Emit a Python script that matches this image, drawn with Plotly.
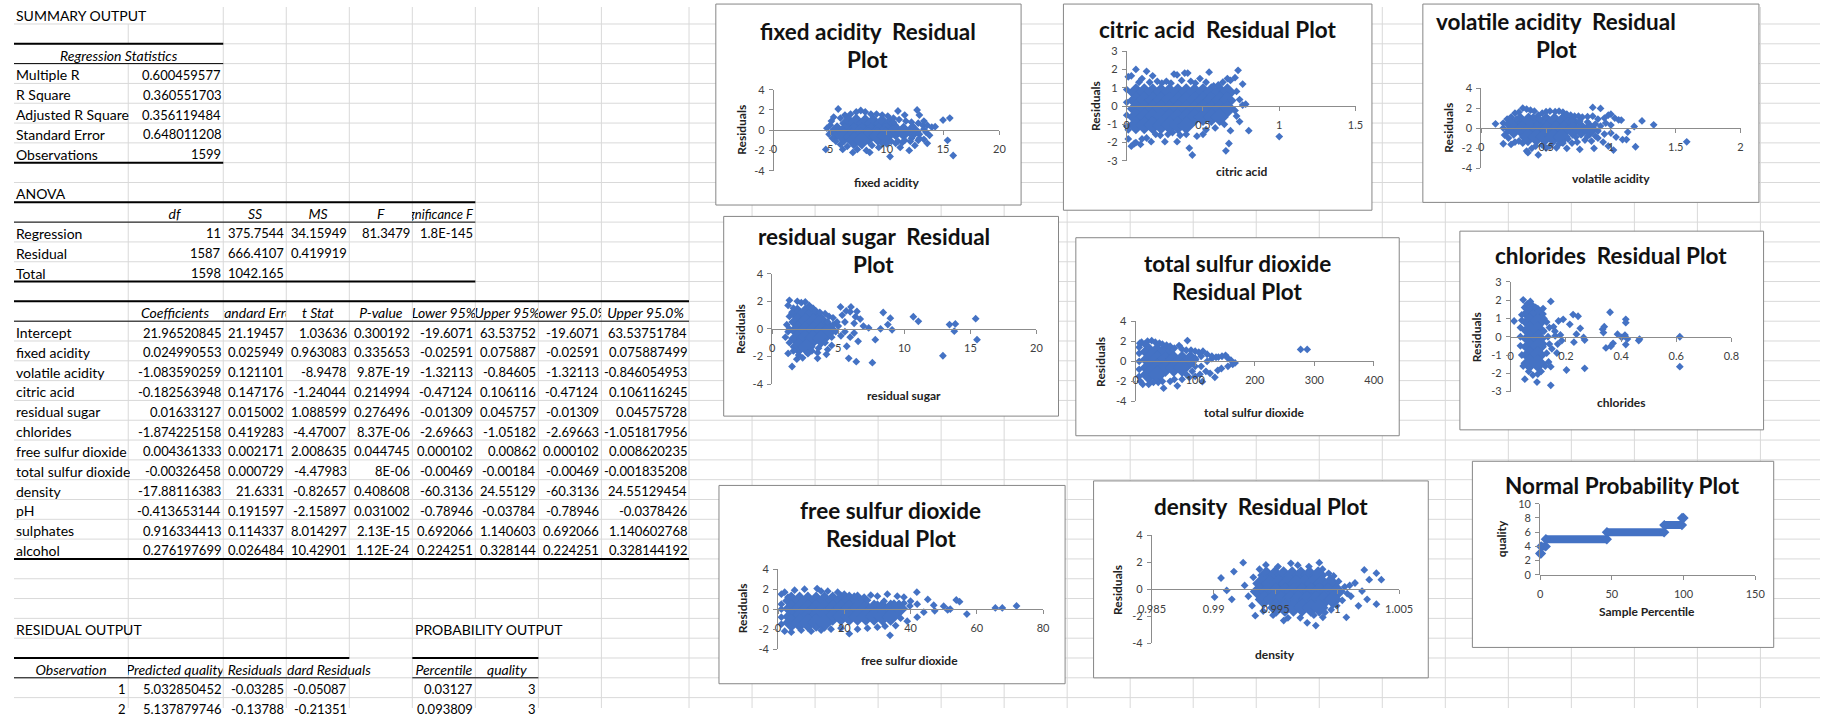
import plotly.graph_objects as go

W, H = 1834, 714
FONT = "Lato"
BLUE = "#4472C4"
GRID = "#d9d9d9"
AXIS = "#8c8c8c"

# ================= regression output (table text) =================
summary_title = "SUMMARY OUTPUT"
reg_stats_header = "Regression Statistics"
reg_stats_labels = ["Multiple R", "R Square", "Adjusted R Square", "Standard Error", "Observations"]
reg_stats_values = ["0.600459577", "0.360551703", "0.356119484", "0.648011208", "1599"]

anova_title = "ANOVA"
anova_headers = ["df", "SS", "MS", "F", "Significance F"]
anova_labels = ["Regression", "Residual", "Total"]
anova_df = ["11", "1587", "1598"]
anova_ss = ["375.7544", "666.4107", "1042.165"]
anova_ms = ["34.15949", "0.419919", ""]
anova_f = ["81.3479", "", ""]
anova_sig = ["1.8E-145", "", ""]

coef_headers = ["Coefficients", "Standard Error", "t Stat", "P-value",
                "Lower 95%", "Upper 95%", "Lower 95.0%", "Upper 95.0%"]
coef_names = ["Intercept", "fixed acidity", "volatile acidity", "citric acid", "residual sugar",
              "chlorides", "free sulfur dioxide", "total sulfur dioxide", "density", "pH",
              "sulphates", "alcohol"]
coef_values = [
    ["21.96520845", "21.19457", "1.03636", "0.300192", "-19.6071", "63.53752", "-19.6071", "63.53751784"],
    ["0.024990553", "0.025949", "0.963083", "0.335653", "-0.02591", "0.075887", "-0.02591", "0.075887499"],
    ["-1.083590259", "0.121101", "-8.9478", "9.87E-19", "-1.32113", "-0.84605", "-1.32113", "-0.846054953"],
    ["-0.182563948", "0.147176", "-1.24044", "0.214994", "-0.47124", "0.106116", "-0.47124", "0.106116245"],
    ["0.01633127", "0.015002", "1.088599", "0.276496", "-0.01309", "0.045757", "-0.01309", "0.04575728"],
    ["-1.874225158", "0.419283", "-4.47007", "8.37E-06", "-2.69663", "-1.05182", "-2.69663", "-1.051817956"],
    ["0.004361333", "0.002171", "2.008635", "0.044745", "0.000102", "0.00862", "0.000102", "0.008620235"],
    ["-0.00326458", "0.000729", "-4.47983", "8E-06", "-0.00469", "-0.00184", "-0.00469", "-0.001835208"],
    ["-17.88116383", "21.6331", "-0.82657", "0.408608", "-60.3136", "24.55129", "-60.3136", "24.55129454"],
    ["-0.413653144", "0.191597", "-2.15897", "0.031002", "-0.78946", "-0.03784", "-0.78946", "-0.0378426"],
    ["0.916334413", "0.114337", "8.014297", "2.13E-15", "0.692066", "1.140603", "0.692066", "1.140602768"],
    ["0.276197699", "0.026484", "10.42901", "1.12E-24", "0.224251", "0.328144", "0.224251", "0.328144192"],
]

residual_title = "RESIDUAL OUTPUT"
probability_title = "PROBABILITY OUTPUT"
residual_headers = ["Observation", "Predicted quality", "Residuals", "dard Residuals"]
probability_headers = ["Percentile", "quality"]
residual_rows = [["1", "5.032850452", "-0.03285", "-0.05087"],
                 ["2", "5.137879746", "-0.13788", "-0.21351"]]
probability_rows = [["0.03127", "3"], ["0.093809", "3"]]

# ================= residual plots =================
fixed_acidity_core = [(6.6, 0.7), (7.3, 0.75), (8.1, 0.7), (8.8, 0.7), (9.6, 0.65), (10.3, 0.5),
    (5.6, -0.1), (6.3, -0.1), (7.1, -0.15), (7.8, -0.1), (8.6, -0.1), (9.3, -0.15), (10.0, -0.1),
    (10.8, -0.1), (11.5, -0.15), (12.3, -0.1), (6.2, -0.6), (6.9, -0.65), (7.7, -0.6), (8.4, -0.6),
    (9.2, -0.6), (9.9, -0.55), (7.1, -1.0), (7.8, -1.0)]
fixed_acidity_pts = [(4.6, -1.9), (4.7, 0.2), (4.9, -0.4), (5.0, 0.5), (5.1, 0.9), (5.3, 1.3), (5.7, 2.1),
    (5.9, 1.2), (6.3, 1.5), (6.8, 1.6), (7.3, 1.8), (7.7, 1.95), (8.1, 1.8), (8.6, 1.6), (9.1, 1.6),
    (9.6, 1.5), (10.1, 1.4), (10.6, 1.2), (10.6, 0.8), (11.0, 1.9), (11.1, 1.05), (11.6, 1.5), (11.7, 0.9),
    (12.2, 0.8), (12.3, 0.4), (12.7, 2.0), (12.8, 0.7), (12.9, 1.5), (13.2, 0.5), (13.3, 0.9), (13.3, 0.1),
    (13.6, 0.5), (14.0, 0.3), (14.3, 0.35), (13.5, -0.2), (13.8, -0.5), (12.9, -0.4), (12.9, -0.8),
    (12.2, -0.8), (11.6, -1.0), (11.0, -1.1), (10.4, -1.1), (10.0, -1.35), (15.0, 1.0), (15.6, 1.2),
    (5.2, -0.8), (5.5, -1.1), (5.9, -1.4), (6.1, -1.9), (6.5, -1.6), (7.0, -2.2), (7.4, -1.9), (8.2, -2.0),
    (8.5, -2.2), (8.7, -1.5), (9.3, -1.7), (9.6, -1.3), (10.3, -2.6), (10.8, -1.3), (11.2, -1.7),
    (11.4, -1.2), (12.0, -2.0), (12.1, -1.1), (12.5, -1.5), (12.8, -1.0), (13.3, -0.9), (13.6, -1.3),
    (15.4, -1.0), (15.9, -2.5)]

citric_acid_core = [
    (0.06, 0.75), (0.115, 0.75), (0.17, 0.75), (0.225, 0.75), (0.28, 0.75), (0.335, 0.75), (0.39, 0.75),
    (0.445, 0.75), (0.5, 0.75), (0.555, 0.75), (0.61, 0.75), (0.66, 0.75),
    (0.06, 0.3), (0.115, 0.3), (0.17, 0.3), (0.225, 0.3), (0.28, 0.3), (0.335, 0.3), (0.39, 0.3),
    (0.445, 0.3), (0.5, 0.3), (0.555, 0.3), (0.61, 0.3), (0.66, 0.3),
    (0.06, -0.15), (0.115, -0.15), (0.17, -0.15), (0.225, -0.15), (0.28, -0.15), (0.335, -0.15),
    (0.39, -0.15), (0.445, -0.15), (0.5, -0.15), (0.555, -0.15), (0.61, -0.15), (0.66, -0.15),
    (0.06, -0.6), (0.115, -0.6), (0.17, -0.6), (0.225, -0.6), (0.28, -0.6), (0.335, -0.6), (0.39, -0.6),
    (0.445, -0.6), (0.5, -0.6), (0.555, -0.6), (0.61, -0.6),
    (0.06, -1.05), (0.115, -1.05), (0.17, -1.05), (0.225, -1.05), (0.28, -1.05), (0.335, -1.05), (0.39, -1.05)]
citric_acid_pts = [(0.01, 1.6), (0.03, 1.65), (0.06, 2.0), (0.08, 1.3), (0.1, 1.5), (0.13, 1.9), (0.15, 1.3),
    (0.17, 1.65), (0.2, 1.35), (0.23, 1.25), (0.26, 1.35), (0.29, 1.25), (0.31, 1.75), (0.33, 1.7),
    (0.36, 1.4), (0.38, 1.8), (0.4, 1.8), (0.42, 1.35), (0.45, 1.25), (0.48, 1.5), (0.52, 1.3), (0.54, 1.85),
    (0.57, 1.1), (0.6, 1.15), (0.63, 1.3), (0.66, 1.5), (0.68, 1.4), (0.71, 1.55), (0.73, 1.95), (0.76, 1.2),
    (0.72, 0.8), (0.74, 0.35), (0.76, 0.05), (0.78, 0.1), (0.71, -0.25), (0.72, -0.55), (0.74, -0.85),
    (0.8, -1.35), (0.68, -1.35), (0.67, -2.05), (0.65, -2.45), (0.64, -1.0), (0.58, -1.2), (0.52, -1.3),
    (0.5, -1.55), (0.46, -1.65), (0.43, -2.68), (0.41, -2.3), (0.39, -1.55), (0.35, -1.6), (0.33, -1.95),
    (0.3, -1.45), (0.27, -1.55), (0.25, -1.95), (0.22, -1.6), (0.19, -1.55), (0.16, -1.95), (0.13, -1.75),
    (0.1, -1.8), (0.09, -2.1), (0.06, -2.0), (0.05, -2.05), (0.03, -2.2), (0.01, -1.8), (0.01, -1.3),
    (0.0, 0.9), (0.0, 0.2), (0.0, -0.5), (0.0, -1.1), (1.0, -1.67)]

volatile_acidity_core = [(0.3, 0.65), (0.365, 0.65), (0.5, 0.65), (0.565, 0.65), (0.63, 0.65), (0.695, 0.6),
    (0.25, -0.15), (0.315, -0.15), (0.38, -0.15), (0.445, -0.15), (0.51, -0.15), (0.575, -0.15),
    (0.64, -0.15), (0.705, -0.15), (0.77, -0.15), (0.835, -0.15),
    (0.36, -0.9), (0.425, -0.9), (0.49, -0.9), (0.555, -0.9), (0.62, -0.9)]
volatile_acidity_pts = [(0.11, 0.43), (0.17, 0.5), (0.2, 0.9), (0.23, 1.1), (0.26, 1.5), (0.29, 1.6),
    (0.32, 2.0), (0.35, 1.9), (0.38, 1.8), (0.41, 1.7), (0.44, 1.3), (0.47, 1.5), (0.5, 1.65), (0.53, 1.7),
    (0.57, 1.65), (0.6, 1.7), (0.63, 1.6), (0.66, 1.4), (0.69, 1.3), (0.72, 1.2), (0.75, 1.2), (0.78, 1.1),
    (0.82, 1.15), (0.86, 2.07), (0.86, 1.2), (0.9, 0.9), (0.92, 1.97), (0.95, 1.0), (0.98, 1.3), (1.0, 1.4),
    (1.03, 1.0), (1.06, 0.82), (1.08, 0.8), (0.43, 0.9), (0.43, 0.4),
    (0.17, 0.0), (0.2, -0.4), (0.2, 0.4), (0.23, 0.7), (0.27, 0.9), (0.4, 1.1), (0.45, 0.9), (0.7, 0.8),
    (0.76, 0.7), (0.82, 0.6), (0.88, 0.4), (0.92, 0.2), (0.96, 0.5), (1.0, 0.3), (0.9, -0.3), (0.95, -0.6),
    (1.0, -0.5), (1.04, -0.9), (0.88, -0.8), (0.82, -0.8), (0.73, -0.9), (0.67, -1.1),
    (0.17, -1.57), (0.18, -0.7), (0.21, -1.0), (0.23, -1.64), (0.26, -1.4), (0.29, -1.3), (0.32, -1.5),
    (0.35, -2.3), (0.36, -2.46), (0.39, -2.03), (0.42, -1.8), (0.44, -2.69), (0.47, -1.7), (0.5, -2.0),
    (0.53, -1.8), (0.58, -1.97), (0.6, -1.6), (0.63, -1.5), (0.66, -2.03), (0.7, -1.5), (0.74, -1.4),
    (0.76, -2.13), (0.8, -1.2), (0.85, -1.3), (0.87, -2.03), (0.9, -1.0), (0.94, -1.4), (0.98, -1.8),
    (1.02, -2.2), (1.09, -1.15), (1.12, -1.15), (1.13, -0.4), (1.18, 0.16), (1.19, -1.87), (1.24, 0.72),
    (1.33, 0.33), (1.585, -1.38)]

residual_sugar_core = [(1.9, 1.1), (2.5, 1.1), (3.1, 1.1),
    (1.9, 0.5), (2.5, 0.5), (3.1, 0.5), (3.7, 0.5),
    (1.9, -0.1), (2.5, -0.1), (3.1, -0.1), (3.7, -0.1), (4.3, -0.1),
    (1.9, -0.7), (2.5, -0.7), (3.1, -0.7), (3.7, -0.7),
    (2.0, -1.3), (2.6, -1.3)]
residual_sugar_pts = [(1.2, 1.7), (1.3, 2.07), (1.5, 1.2), (1.6, 1.5), (1.9, 2.0), (2.2, 1.9), (2.5, 1.95),
    (2.8, 1.7), (3.0, 1.5), (3.3, 1.3), (3.6, 1.2), (4.0, 1.1), (4.3, 0.9), (4.6, 0.8), (4.9, 0.5),
    (5.17, 1.59), (5.3, 1.0), (5.6, 1.3), (5.96, 1.59), (5.9, 1.24), (6.3, 0.88), (6.41, 1.26), (6.66, 0.71),
    (6.2, 0.4), (5.5, 0.5), (5.0, 0.2), (4.8, -0.2), (5.2, -0.5), (5.5, -0.2), (5.9, -0.6), (6.2, -0.3),
    (6.5, -0.9), (6.9, 0.2), (7.3, 0.07), (7.8, -0.78), (8.2, 0.0), (8.4, 1.19), (8.75, 0.31), (8.94, 0.78),
    (9.07, -0.07), (5.64, -1.26), (5.79, -2.14), (6.36, -2.38), (7.58, -2.45), (10.68, 0.88), (11.06, 0.55),
    (12.92, -1.95), (13.42, 0.31), (13.86, 0.36), (13.78, -0.17), (15.4, 0.74), (15.5, -0.78),
    (1.0, -0.6), (1.1, 0.3), (1.2, -0.2), (1.3, -1.0), (1.2, -1.78), (1.5, -2.73), (1.86, -2.2), (1.6, -1.6),
    (2.0, -1.9), (2.3, -2.1), (2.7, -1.8), (3.0, -1.6), (3.43, -2.14), (3.43, -1.73), (3.5, -1.4),
    (4.1, -1.85), (4.2, -1.5), (4.5, -1.2), (4.0, -1.0), (4.5, -0.6), (4.6, 0.3), (4.2, 0.5), (1.3, 0.9),
    (1.3, 0.0)]

total_sulfur_core = [(22, 0.95), (36, 0.95), (50, 0.95),
    (22, 0.15), (36, 0.15), (50, 0.15), (64, 0.15), (78, 0.15), (92, 0.15),
    (22, -0.65), (36, -0.65), (50, -0.65), (64, -0.65), (78, -0.65),
    (22, -1.35), (36, -1.35)]
total_sulfur_pts = [(7, 1.8), (10, 1.9), (15, 1.7), (20, 2.0), (27, 2.05), (33, 1.9), (40, 1.8), (45, 1.7),
    (52, 1.6), (58, 1.5), (65, 1.3), (73, 1.57), (78, 1.2), (87, 2.06), (85, 1.1), (93, 1.1), (100, 1.0),
    (106, 0.9), (113, 1.01), (120, 0.7), (128, 0.26), (128, 0.5), (135, 0.4), (139, 0.42), (145, 0.5),
    (151, 0.59), (155, 0.3), (160, 0.1), (167, -0.16), (163, -0.3), (155, -0.5), (144, -0.72), (138, -0.9),
    (133, -1.6), (125, -1.2), (118, -1.0), (112, -2.03), (108, -1.3), (100, -1.5), (95, -1.0), (90, -1.6),
    (85, -1.3), (78, -1.8), (70, -2.45), (65, -1.8), (58, -2.0), (47, -2.68), (45, -2.0), (38, -2.1),
    (30, -2.1), (22, -2.3), (12, -2.3), (8, -2.0), (6, -1.5), (6, -0.8), (6, 0.0), (6, 0.8), (6, 1.4),
    (110, 0.5), (110, -0.5), (120, 0.0), (100, 0.3), (100, -0.5), (277, 1.18), (288, 1.18)]

chlorides_core = [(0.068, 1.25), (0.098, 1.25), (0.068, 0.8), (0.098, 0.8), (0.068, 0.35), (0.098, 0.35),
    (0.068, -0.1), (0.098, -0.1), (0.068, -0.55), (0.098, -0.55), (0.068, -1.0), (0.098, -1.0),
    (0.068, -1.45), (0.098, -1.45)]
chlorides_pts = [(0.012, 0.86), (0.04, 1.2), (0.045, 2.02), (0.05, 1.6), (0.06, 1.8), (0.071, 1.93),
    (0.08, 1.7), (0.09, 1.6), (0.1, 1.4), (0.117, 1.54), (0.12, 1.0), (0.13, 0.8), (0.145, 1.93),
    (0.14, 0.5), (0.135, 0.0), (0.14, -0.4), (0.13, -0.9), (0.137, -1.38), (0.125, -1.6), (0.145, -1.64),
    (0.145, -2.66), (0.11, -1.9), (0.095, -2.48), (0.098, -2.04), (0.08, -2.1), (0.065, -1.9),
    (0.051, -2.32), (0.045, -1.6), (0.04, -1.0), (0.035, -0.5), (0.035, 0.0), (0.035, 0.5), (0.04, 0.9),
    (0.12, 0.3), (0.12, -0.4), (0.155, 0.54), (0.161, 0.05), (0.149, -0.66), (0.167, -0.89), (0.173, 0.86),
    (0.185, -0.21), (0.19, 0.95), (0.202, -1.82), (0.214, 0.68), (0.226, 1.21), (0.229, -0.3), (0.238, 0.14),
    (0.244, 1.12), (0.252, 0.46), (0.264, -0.04), (0.268, -0.18), (0.268, -1.73), (0.333, 0.41),
    (0.336, 0.23), (0.339, 0.55), (0.345, -0.61), (0.36, 1.34), (0.363, -0.52), (0.371, -0.36),
    (0.387, 0.14), (0.402, -0.04), (0.414, 0.09), (0.417, 0.95), (0.417, 0.77), (0.417, -0.43),
    (0.423, -0.12), (0.464, -0.21), (0.467, -0.13), (0.613, 0.0), (0.613, -1.64), (0.16, 0.3),
    (0.17, -0.4), (0.18, 0.1)]

free_sulfur_core = [(4, 0.85), (6.5, 0.85), (9, 0.85), (11.5, 0.85), (14, 0.85), (16.5, 0.85), (19, 0.85),
    (21.5, 0.85), (24, 0.85),
    (4, 0.05), (6.5, 0.05), (9, 0.05), (11.5, 0.05), (14, 0.05), (16.5, 0.05), (19, 0.05), (21.5, 0.05),
    (24, 0.05), (26.5, 0.05), (29, 0.05), (31.5, 0.05), (34, 0.05), (36.5, 0.05),
    (4, -0.75), (6.5, -0.75), (9, -0.75), (11.5, -0.75), (14, -0.75), (16.5, -0.75), (19, -0.75),
    (21.5, -0.75), (24, -0.75), (26.5, -0.75), (29, -0.75), (31.5, -0.75), (34, -0.75),
    (4, -1.35), (6.5, -1.35), (9, -1.35), (11.5, -1.35), (14, -1.35)]
free_sulfur_pts = [(1, 0.5), (1, 1.5), (2, 1.7), (3, 1.2), (5, 1.9), (8, 2.0), (11.8, 2.07), (13, 1.8),
    (15, 1.8), (18, 1.7), (20, 1.5), (23, 1.3), (26, 1.2), (28, 1.4), (30, 1.3), (33, 1.5), (36, 1.3),
    (38, 1.2), (41.9, 1.7), (40, 0.8), (42, 0.5), (45.2, 0.98), (47, 0.4), (50, 0.3), (53.8, 0.92),
    (54.8, 0.75), (52, 0.0), (47.3, -0.16), (51.2, -0.07), (57, -0.49), (65.6, 0.13), (67.7, 0.13),
    (72, 0.33), (39.8, 0.33), (44, -0.3), (42, -0.8), (39, -1.2), (35.5, -1.64), (32.3, -1.7),
    (33.8, -2.62), (30, -1.8), (27, -1.9), (24, -2.0), (21.5, -2.46), (19, -1.9), (16, -2.0), (13, -2.1),
    (10, -2.2), (7, -2.1), (4, -2.3), (2, -2.2), (1, -1.5), (1, -0.8), (1, 0.0), (37, -0.9), (38, 0.6),
    (27, 0.9), (32, 0.8), (35, 0.6), (30, 0.5)]

density_core = [(0.99425, 1.05), (0.99495, 1.05), (0.99565, 1.05), (0.99635, 1.05), (0.99705, 1.05),
    (0.99775, 1.05), (0.99845, 1.05),
    (0.99385, 0.45), (0.99455, 0.45), (0.99525, 0.45), (0.99595, 0.45), (0.99665, 0.45), (0.99735, 0.45),
    (0.99805, 0.45), (0.99875, 0.45), (0.99945, 0.45),
    (0.99365, -0.15), (0.99435, -0.15), (0.99505, -0.15), (0.99575, -0.15), (0.99645, -0.15),
    (0.99715, -0.15), (0.99785, -0.15), (0.99855, -0.15), (0.99925, -0.15), (0.99995, -0.15),
    (0.99405, -0.75), (0.99475, -0.75), (0.99545, -0.75), (0.99615, -0.75), (0.99685, -0.75),
    (0.99755, -0.75), (0.99825, -0.75), (0.99895, -0.75), (0.99965, -0.75),
    (0.99505, -1.35), (0.99575, -1.35), (0.99645, -1.35), (0.99715, -1.35), (0.99785, -1.35),
    (0.99855, -1.35)]
density_pts = [(0.99007, -0.56), (0.99059, 0.85), (0.99163, 1.33), (0.99146, -0.73), (0.99105, -0.07),
    (0.99238, 1.99), (0.9925, 0.3), (0.9928, -0.5), (0.9932, 0.9), (0.9931, -1.2), (0.99336, -1.94),
    (0.9937, 1.5), (0.994, -1.6), (0.99422, 1.82), (0.9948, -1.9), (0.99566, -2.3), (0.9952, 1.7),
    (0.99624, 1.94), (0.996, -2.1), (0.9968, 1.8), (0.997, -2.1), (0.99756, -2.47), (0.99826, -2.67),
    (0.9977, 1.7), (0.99854, 1.99), (0.9981, -1.9), (0.99883, -2.06), (0.9988, 1.5), (0.999, -1.7),
    (0.9993, 1.2), (0.9995, -1.5), (0.9997, 1.0), (0.99995, -1.2), (1.0001, 0.6), (1.00073, -2.06),
    (1.0004, -0.8), (1.0006, 0.2), (1.0008, -0.3), (1.001, 0.3), (1.0011, -0.5), (1.00143, 0.48),
    (1.002, -0.12), (1.00171, -1.21), (1.00218, 1.45), (1.00241, -0.73), (1.00258, 0.73), (1.00316, 1.21),
    (1.00316, -1.09), (1.00356, 0.73)]

# normal probability plot: runs of sorted quality values (percentile start/end for each level)
np_quality = [3, 4, 5, 6, 7, 8]
np_pct_start = [0.03, 0.7, 4.0, 46.6, 86.6, 99.0]
np_pct_end = [0.6, 3.9, 46.5, 86.5, 98.9, 99.97]

# tick labels
ticks = {
    "fa": ([0, 5, 10, 15, 20], ["0", "5", "10", "15", "20"], [-4, -2, 0, 2, 4], ["-4", "-2", "0", "2", "4"]),
    "ca": ([0, 0.5, 1, 1.5], ["0", "0.5", "1", "1.5"], [-3, -2, -1, 0, 1, 2, 3], ["-3", "-2", "-1", "0", "1", "2", "3"]),
    "va": ([0, 0.5, 1, 1.5, 2], ["0", "0.5", "1", "1.5", "2"], [-4, -2, 0, 2, 4], ["-4", "-2", "0", "2", "4"]),
    "rs": ([0, 5, 10, 15, 20], ["0", "5", "10", "15", "20"], [-4, -2, 0, 2, 4], ["-4", "-2", "0", "2", "4"]),
    "ts": ([0, 100, 200, 300, 400], ["0", "100", "200", "300", "400"], [-4, -2, 0, 2, 4], ["-4", "-2", "0", "2", "4"]),
    "ch": ([0, 0.2, 0.4, 0.6, 0.8], ["0", "0.2", "0.4", "0.6", "0.8"], [-3, -2, -1, 0, 1, 2, 3], ["-3", "-2", "-1", "0", "1", "2", "3"]),
    "fs": ([0, 20, 40, 60, 80], ["0", "20", "40", "60", "80"], [-4, -2, 0, 2, 4], ["-4", "-2", "0", "2", "4"]),
    "de": ([0.985, 0.99, 0.995, 1.0, 1.005], ["0.985", "0.99", "0.995", "1", "1.005"], [-4, -2, 0, 2, 4], ["-4", "-2", "0", "2", "4"]),
    "np": ([0, 50, 100, 150], ["0", "50", "100", "150"], [0, 2, 4, 6, 8, 10], ["0", "2", "4", "6", "8", "10"]),
}

charts = [
    dict(k="fa", core=fixed_acidity_core, pts=fixed_acidity_pts, xr=[0, 20], yr=[-4, 4],
         xd=(771.7, 1000.7), yd=(84.3, 166.7), box=(712.7, -3, 1022.7, 201.7),
         title=["fixed acidity \u00a0Residual", "Plot"], tpos=[(867, 25), (867, 53.3)],
         xtitle="fixed acidity", xtpos=(886.7, 178.3), ytitle="Residuals", ytpos=(738, 125.3)),
    dict(k="ca", core=citric_acid_core, pts=citric_acid_pts, xr=[0, 1.5], yr=[-3, 3],
         xd=(1130, 1362.3), yd=(45, 156.7), box=(1065.7, -3, 1379, 207),
         title=["citric acid \u00a0Residual Plot"], tpos=[(1221.7, 22.7)],
         xtitle="citric acid", xtpos=(1246.7, 167.7), ytitle="Residuals", ytpos=(1097.7, 101)),
    dict(k="va", core=volatile_acidity_core, pts=volatile_acidity_pts, xr=[0, 2], yr=[-4, 4],
         xd=(1490, 1753.3), yd=(82.7, 164), box=(1430.7, -3, 1772, 199),
         title=["volatile acidity \u00a0Residual", "Plot"], tpos=[(1566, 15), (1566, 43.3)],
         xtitle="volatile acidity", xtpos=(1621.7, 175), ytitle="Residuals", ytpos=(1456.7, 122.5)),
    dict(k="rs", core=residual_sugar_core, pts=residual_sugar_pts, xr=[0, 20], yr=[-4, 4],
         xd=(770, 1038.3), yd=(271.7, 384), box=(720.7, 213.3, 1060.7, 416.7),
         title=["residual sugar \u00a0Residual", "Plot"], tpos=[(873, 233.3), (873, 262.3)],
         xtitle="residual sugar", xtpos=(904, 396), ytitle="Residuals", ytpos=(737.3, 328)),
    dict(k="ts", core=total_sulfur_core, pts=total_sulfur_pts, xr=[0, 400], yr=[-4, 4],
         xd=(1139, 1381), yd=(320, 401.7), box=(1078.3, 235, 1406.7, 436.7),
         title=["total sulfur dioxide", "Residual Plot"], tpos=[(1242.3, 261.7), (1242.3, 290)],
         xtitle="total sulfur dioxide", xtpos=(1259.3, 412.7), ytitle="Residuals", ytpos=(1103.3, 361)),
    dict(k="ch", core=chlorides_core, pts=chlorides_pts, xr=[0, 0.8], yr=[-3, 3],
         xd=(1520, 1744), yd=(280, 391.7), box=(1468.3, 228.3, 1776.7, 430.7),
         title=["chlorides \u00a0Residual Plot"], tpos=[(1621.7, 253.3)],
         xtitle="chlorides", xtpos=(1632.3, 402.7), ytitle="Residuals", ytpos=(1486, 336)),
    dict(k="fs", core=free_sulfur_core, pts=free_sulfur_pts, xr=[0, 80], yr=[-4, 4],
         xd=(775.9, 1045), yd=(572.7, 654), box=(715.9, 487.3, 1067.4, 689.3),
         title=["free sulfur dioxide", "Residual Plot"], tpos=[(890.5, 513.3), (890.5, 541.7)],
         xtitle="free sulfur dioxide", xtpos=(909.7, 665.7), ytitle="Residuals", ytpos=(739.8, 613)),
    dict(k="de", core=density_core, pts=density_pts, xr=[0.985, 1.005], yr=[-4, 4],
         xd=(1155.6, 1406.6), yd=(538.3, 648.3), box=(1096.3, 482.7, 1436.2, 683.3),
         title=["density \u00a0Residual Plot"], tpos=[(1266, 508.3)],
         xtitle="density", xtpos=(1280.7, 659), ytitle="Residuals", ytpos=(1120.6, 593.3)),
    dict(k="np", core=None, pts=None, xr=[0, 150], yr=[0, 10],
         xd=(1549.8, 1768.2), yd=(506, 578.3), box=(1481, 462.7, 1787, 652.3),
         title=["Normal Probability Plot"], tpos=[(1633.7, 487.7)],
         xtitle="Sample Percentile", xtpos=(1658.3, 616), ytitle="quality", ytpos=(1511.4, 541.7)),
]

# ================= layout helpers =================
fig = go.Figure()
shapes = []
annotations = []

COLS = [0, 116, 212.5, 276.5, 340.5, 404.5, 468.5, 532.5, 596.5, 685.5]
ROW0, ROWH = 17.3, 20.18


def line_y(k):  # bottom edge of sheet row k
    return ROW0 + ROWH * (k - 1)


def row_c(r):
    return ROW0 + ROWH * (r - 1.5) + 1.5


def hline(y, x0, x1, color=GRID, w=1):
    shapes.append(dict(type="line", xref="paper", yref="paper", x0=x0 / W, x1=x1 / W,
                       y0=1 - y / H, y1=1 - y / H, line=dict(color=color, width=w), layer="below"))


def vline(x, y0, y1, color=GRID, w=1):
    shapes.append(dict(type="line", xref="paper", yref="paper", x0=x / W, x1=x / W,
                       y0=1 - y0 / H, y1=1 - y1 / H, line=dict(color=color, width=w), layer="below"))


# sheet gridlines
k = 1
while line_y(k) < H:
    hline(line_y(k), 0, W)
    k += 1
vcols = COLS[1:] + [749.5 + 64 * j for j in range(17)]
for x in vcols:
    if x == 116:
        vline(x, line_y(1), line_y(2))
        vline(x, line_y(3), H)
    elif x in (468.5, 532.5):
        vline(x, 0, line_y(31))
        vline(x, line_y(32), H)
    elif x == 340.5:
        vline(x, 0, line_y(33))
        vline(x, line_y(34), H)
    else:
        vline(x, 0, H)

# table borders
hline(line_y(2), 0, COLS[2], "black", 2)
hline(line_y(3), 0, COLS[2], "black", 1)
hline(line_y(8), 0, COLS[2], "black", 2)
hline(line_y(10), 0, COLS[6], "black", 2)
hline(line_y(11), 0, COLS[6], "black", 1)
hline(line_y(14), 0, COLS[6], "black", 2)
hline(line_y(15), 0, COLS[9], "black", 2)
hline(line_y(16), 0, COLS[9], "black", 1)
hline(line_y(28), 0, COLS[9], "black", 2)
hline(line_y(33), 0, COLS[4], "black", 2)
hline(line_y(33), COLS[5], COLS[7], "black", 2)
hline(line_y(34), 0, COLS[4], "black", 1)
hline(line_y(34), COLS[5], COLS[7], "black", 1)

TS = 14   # text cells
NS = 13   # numeric cells


def cell(text, c0, c1, r, align, italic=False, clip=False, size=TS):
    if text == "":
        return
    x0, x1 = COLS[c0], COLS[c1]
    y = row_c(r)
    if align == "left":
        x, xa = x0 + 2.5, "left"
    elif align == "right":
        x, xa = x1 - 2.5, "right"
    else:
        x, xa = (x0 + x1) / 2, "center"
    t = "<i>%s</i>" % text if italic else text
    a = dict(text=t, x=x / W, y=1 - y / H, xref="paper", yref="paper", xanchor=xa, yanchor="middle",
             showarrow=False, borderpad=0, borderwidth=0,
             font=dict(family=FONT, size=size, color="black"))
    if clip:
        a["width"] = x1 - x0 - 2
        a["align"] = align
        if align == "right":
            a["x"] = (x1 - 1) / W
    annotations.append(a)


cell(summary_title, 0, 1, 1, "left")
cell(reg_stats_header, 0, 2, 3, "center", italic=True)
for i, (lab, val) in enumerate(zip(reg_stats_labels, reg_stats_values)):
    cell(lab, 0, 1, 4 + i, "left")
    cell(val, 1, 2, 4 + i, "right", size=NS)

cell(anova_title, 0, 1, 10, "left")
for j, hdr in enumerate(anova_headers):
    cell(hdr, 1 + j, 2 + j, 11, "right" if j == 4 else "center", italic=True, clip=True,
         size=13 if j == 4 else TS)
for i, lab in enumerate(anova_labels):
    cell(lab, 0, 1, 12 + i, "left")
    for j, col in enumerate([anova_df, anova_ss, anova_ms, anova_f, anova_sig]):
        cell(col[i], 1 + j, 2 + j, 12 + i, "right", size=NS)

for j, hdr in enumerate(coef_headers):
    cell(hdr, 1 + j, 2 + j, 16, "center", italic=True, clip=True)
for i, name in enumerate(coef_names):
    cell(name, 0, 1, 17 + i, "left", clip=True)
    for j, v in enumerate(coef_values[i]):
        cell(v, 1 + j, 2 + j, 17 + i, "right", size=NS)

cell(residual_title, 0, 1, 32, "left")
cell(probability_title, 5, 6, 32, "left")
cell(residual_headers[0], 0, 1, 34, "center", italic=True, clip=True)
cell(residual_headers[1], 1, 2, 34, "center", italic=True, clip=True)
cell(residual_headers[2], 2, 3, 34, "center", italic=True, clip=True)
annotations.append(dict(text="<i>%s</i>" % residual_headers[3], x=(COLS[3] + 0.5) / W, y=1 - row_c(34) / H,
                        xref="paper", yref="paper", xanchor="left", yanchor="middle", showarrow=False,
                        borderpad=0, borderwidth=0, font=dict(family=FONT, size=TS, color="black")))
cell(probability_headers[0], 5, 6, 34, "center", italic=True, clip=True)
cell(probability_headers[1], 6, 7, 34, "center", italic=True, clip=True)
for i, row in enumerate(residual_rows):
    for j, v in enumerate(row):
        cell(v, j, j + 1, 35 + i, "right", size=NS)
    for j, v in enumerate(probability_rows[i]):
        cell(v, 5 + j, 6 + j, 35 + i, "right", size=NS)

# ================= charts =================
layout_axes = {}
for n, c in enumerate(charts, start=1):
    sfx = "" if n == 1 else str(n)
    bx0, by0, bx1, by1 = c["box"]
    shapes.append(dict(type="rect", xref="paper", yref="paper", x0=bx0 / W, x1=bx1 / W,
                       y0=1 - by1 / H, y1=1 - by0 / H, fillcolor="white",
                       line=dict(color="#868686", width=1), layer="below"))
    xv, xt, yv, yt = ticks[c["k"]]
    yd0, yd1 = c["yd"]
    y_zero_px = yd0 + (c["yr"][1] - 0) / (c["yr"][1] - c["yr"][0]) * (yd1 - yd0)
    tf = dict(family=FONT, size=11, color="#404040")
    layout_axes["xaxis" + sfx] = dict(domain=[c["xd"][0] / W, c["xd"][1] / W], range=c["xr"],
                                      anchor="free", position=1 - y_zero_px / H,
                                      showline=True, linecolor=AXIS, linewidth=1, ticks="outside",
                                      ticklen=4, tickcolor=AXIS, tickvals=xv, ticktext=xt,
                                      showgrid=False, zeroline=False, tickfont=tf, fixedrange=True,
                                      ticklabelstandoff=5)
    layout_axes["yaxis" + sfx] = dict(domain=[1 - yd1 / H, 1 - yd0 / H], range=c["yr"], anchor="x" + sfx,
                                      showline=True, linecolor=AXIS, linewidth=1, ticks="outside",
                                      ticklen=4, tickcolor=AXIS, tickvals=yv, ticktext=yt,
                                      showgrid=False, zeroline=False, tickfont=tf, fixedrange=True,
                                      ticklabelstandoff=2)
    if c["core"] is not None:
        cx, cy = zip(*c["core"])
        fig.add_trace(go.Scatter(x=cx, y=cy, mode="markers", xaxis="x" + sfx, yaxis="y" + sfx,
                                 marker=dict(symbol="diamond", size=14, color=BLUE, line=dict(width=0)),
                                 cliponaxis=False, showlegend=False, hoverinfo="skip"))
        px_, py_ = zip(*c["pts"])
        fig.add_trace(go.Scatter(x=px_, y=py_, mode="markers", xaxis="x" + sfx, yaxis="y" + sfx,
                                 marker=dict(symbol="diamond", size=6, color=BLUE, line=dict(width=0)),
                                 cliponaxis=False, showlegend=False, hoverinfo="skip"))
    else:
        nx, ny = [], []
        for q, s, e in zip(np_quality, np_pct_start, np_pct_end):
            nx += [s, e, None]
            ny += [q, q, None]
        fig.add_trace(go.Scatter(x=nx, y=ny, mode="lines+markers", xaxis="x" + sfx, yaxis="y" + sfx,
                                 line=dict(color=BLUE, width=8),
                                 marker=dict(symbol="diamond", size=8, color=BLUE, line=dict(width=0)),
                                 cliponaxis=False, showlegend=False, hoverinfo="skip"))
    for t, (tx, ty) in zip(c["title"], c["tpos"]):
        annotations.append(dict(text="<b>%s</b>" % t, x=tx / W, y=1 - ty / H, xref="paper", yref="paper",
                                xanchor="center", yanchor="middle", showarrow=False,
                                font=dict(family=FONT, size=22.5, color="#111111")))
    annotations.append(dict(text="<b>%s</b>" % c["xtitle"], x=c["xtpos"][0] / W, y=1 - c["xtpos"][1] / H,
                            xref="paper", yref="paper", xanchor="center", yanchor="middle", showarrow=False,
                            font=dict(family=FONT, size=12, color="#222222")))
    annotations.append(dict(text="<b>%s</b>" % c["ytitle"], x=c["ytpos"][0] / W, y=1 - c["ytpos"][1] / H,
                            xref="paper", yref="paper", xanchor="center", yanchor="middle", showarrow=False,
                            textangle=-90, font=dict(family=FONT, size=12, color="#222222")))

fig.update_layout(width=W, height=H, margin=dict(l=0, r=0, t=0, b=0), paper_bgcolor="white",
                  plot_bgcolor="rgba(0,0,0,0)", shapes=shapes, annotations=annotations,
                  font=dict(family=FONT), showlegend=False, **layout_axes)
fig.write_html("out.html", config={"displayModeBar": False},
               post_script="document.body.style.margin='0';document.body.style.overflow='hidden';")
